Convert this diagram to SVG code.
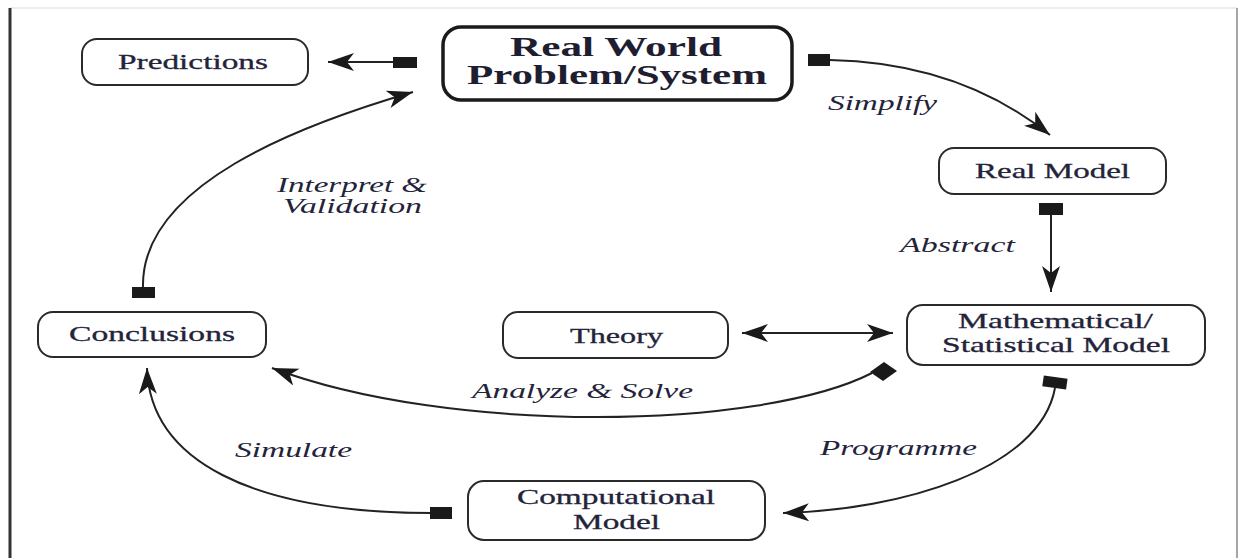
<svg xmlns="http://www.w3.org/2000/svg" width="1239" height="558" viewBox="0 0 1239 558">
<style>
.box{fill:#fff;stroke:#2a2a2a;stroke-width:2}
.big{fill:#fff;stroke:#1a1a1a;stroke-width:3.5}
.nt{font-family:"Liberation Serif","Times New Roman",serif;font-size:21px;fill:#23233a;stroke:#23233a;stroke-width:0.3}
.bt{font-family:"Liberation Serif","Times New Roman",serif;font-size:27px;font-weight:bold;fill:#1e1e30}
.et{font-family:"Liberation Serif","Times New Roman",serif;font-size:20px;font-style:italic;fill:#23233a}
.ln{fill:none;stroke:#222;stroke-width:2}
.sq{fill:#1a1a1a}
</style>
<defs>
<marker id="ah" markerUnits="userSpaceOnUse" markerWidth="28" markerHeight="20" refX="26" refY="9" orient="auto">
<path d="M0,0 L26,9 L0,18 L7,9 z" fill="#1a1a1a"/>
</marker>
<marker id="ahs" markerUnits="userSpaceOnUse" markerWidth="28" markerHeight="20" refX="0" refY="9" orient="auto">
<path d="M26,0 L0,9 L26,18 L19,9 z" fill="#1a1a1a"/>
</marker>
</defs>
<rect width="1239" height="558" fill="#fff"/>
<g id="frame">
<line x1="10" y1="8" x2="1237" y2="8" stroke="#dcdcdc" stroke-width="1.2"/>
<line x1="10" y1="8" x2="10" y2="558" stroke="#333" stroke-width="3"/>
<line x1="1237" y1="8" x2="1237" y2="558" stroke="#888" stroke-width="1.5"/>
</g>
<g id="connectors">
<line class="ln" x1="395" y1="62" x2="328" y2="62" marker-end="url(#ah)"/>
<rect class="sq" x="393" y="57" width="24" height="11"/>
<path class="ln" d="M830,60 C930,62 1000,95 1050,135" marker-end="url(#ah)"/>
<rect class="sq" x="808" y="54" width="22" height="12"/>
<line class="ln" x1="1051" y1="214" x2="1051" y2="292" marker-end="url(#ah)"/>
<rect class="sq" x="1039" y="203" width="24" height="12"/>
<line class="ln" x1="742" y1="333" x2="893" y2="333" marker-start="url(#ahs)" marker-end="url(#ah)"/>
<path class="ln" d="M872,373 C760,430 450,435 272,368" marker-end="url(#ah)"/>
<polygon class="sq" points="870,372 884,362 897,371 883,381"/>
<path class="ln" d="M1055,388 C1040,470 900,510 783,513" marker-end="url(#ah)"/>
<rect class="sq" x="1043" y="377" width="24" height="11" transform="rotate(8 1055 382)"/>
<path class="ln" d="M432,513 C250,513 150,460 147,368" marker-end="url(#ah)"/>
<rect class="sq" x="430" y="507" width="22" height="12"/>
<path class="ln" d="M143,288 C140,185 300,125 413,92" marker-end="url(#ah)"/>
<rect class="sq" x="132" y="287" width="23" height="11"/>
</g>
<g id="edge-labels">
<text class="et" x="828" y="110" textLength="109" lengthAdjust="spacingAndGlyphs">Simplify</text>
<text class="et" x="900" y="252" textLength="115" lengthAdjust="spacingAndGlyphs">Abstract</text>
<text class="et" x="472" y="398" textLength="221" lengthAdjust="spacingAndGlyphs">Analyze &amp; Solve</text>
<text class="et" x="820" y="455" textLength="157" lengthAdjust="spacingAndGlyphs">Programme</text>
<text class="et" x="235" y="457" textLength="117" lengthAdjust="spacingAndGlyphs">Simulate</text>
<text class="et" x="277" y="192" textLength="150" lengthAdjust="spacingAndGlyphs">Interpret &amp;</text>
<text class="et" x="283" y="213" textLength="139" lengthAdjust="spacingAndGlyphs">Validation</text>
</g>
<g id="predictions">
<rect class="box" x="82" y="39" width="226" height="46" rx="15"/>
<text class="nt" x="118" y="69" textLength="150" lengthAdjust="spacingAndGlyphs">Predictions</text>
</g>
<g id="real-world">
<rect class="big" x="443" y="27" width="349" height="73" rx="18"/>
<text class="bt" x="510" y="56" textLength="212" lengthAdjust="spacingAndGlyphs">Real World</text>
<text class="bt" x="467" y="84" textLength="300" lengthAdjust="spacingAndGlyphs">Problem/System</text>
</g>
<g id="real-model">
<rect class="box" x="939" y="148" width="227" height="46" rx="15"/>
<text class="nt" x="975" y="178" textLength="155" lengthAdjust="spacingAndGlyphs">Real Model</text>
</g>
<g id="math-model">
<rect class="box" x="907" y="305" width="298" height="60" rx="16"/>
<text class="nt" x="958" y="328" textLength="195" lengthAdjust="spacingAndGlyphs">Mathematical/</text>
<text class="nt" x="942" y="352" textLength="228" lengthAdjust="spacingAndGlyphs">Statistical Model</text>
</g>
<g id="theory">
<rect class="box" x="503" y="312" width="225" height="46" rx="15"/>
<text class="nt" x="570" y="343" textLength="93" lengthAdjust="spacingAndGlyphs">Theory</text>
</g>
<g id="conclusions">
<rect class="box" x="38" y="312" width="228" height="45" rx="15"/>
<text class="nt" x="69" y="341" textLength="166" lengthAdjust="spacingAndGlyphs">Conclusions</text>
</g>
<g id="computational">
<rect class="box" x="468" y="481" width="297" height="59" rx="16"/>
<text class="nt" x="517" y="504" textLength="198" lengthAdjust="spacingAndGlyphs">Computational</text>
<text class="nt" x="573" y="529" textLength="87" lengthAdjust="spacingAndGlyphs">Model</text>
</g>
</svg>
